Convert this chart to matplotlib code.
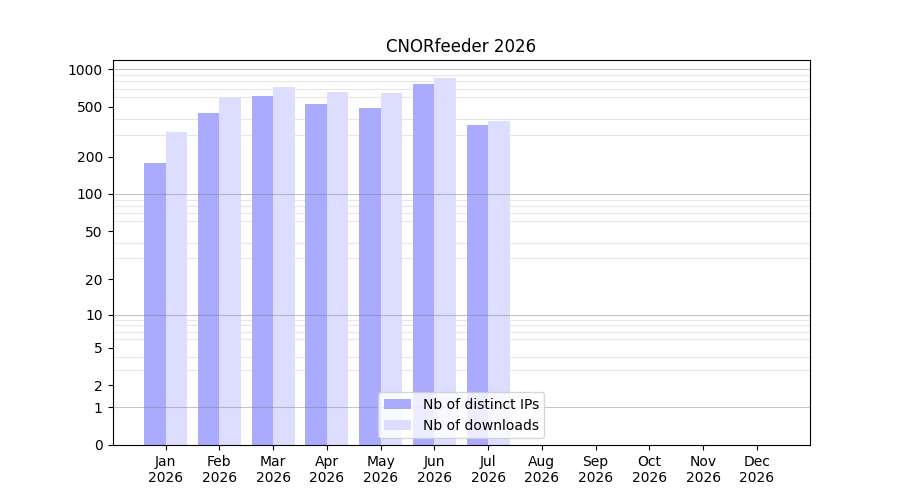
import numpy as np
import matplotlib
matplotlib.use("Agg")
import matplotlib.pyplot as plt
from matplotlib.ticker import FixedLocator, NullFormatter

months = ["Jan", "Feb", "Mar", "Apr", "May", "Jun", "Jul", "Aug", "Sep", "Oct", "Nov", "Dec"]
year = "2026"
distinct_ips = [177, 446, 610, 526, 489, 760, 357]
downloads = [314, 588, 719, 656, 644, 849, 384]
ytick_values = [0, 1, 2, 5, 10, 20, 50, 100, 200, 500, 1000]

def fwd(y):
    return np.log10(1 + np.clip(y, 0, None))

def inv(y):
    return 10 ** y - 1

fig, ax = plt.subplots(figsize=(9, 5), dpi=100)
fig.subplots_adjust(left=0.125, right=0.9, top=0.88, bottom=0.11)
ax.set_yscale("function", functions=(fwd, inv))

x = np.arange(len(months))
w = 0.4
ax.bar(x[:len(distinct_ips)] - w / 2, distinct_ips, width=w, color=(0.667, 0.667, 1.0),
       label="Nb of distinct IPs", zorder=2)
ax.bar(x[:len(downloads)] + w / 2, downloads, width=w, color=(0.867, 0.867, 1.0),
       label="Nb of downloads", zorder=2)

ax.set_xticks(x)
ax.set_xticklabels([f"{m}\n{year}" for m in months])
ax.set_xlim(-0.99, 11.99)
ax.set_ylim(0, 1185)

ax.yaxis.set_major_locator(FixedLocator(ytick_values))
ax.set_yticklabels([str(v) for v in ytick_values])
minor_vals = [m * d for d in (1, 10, 100) for m in range(2, 10)]
ax.yaxis.set_minor_locator(FixedLocator(minor_vals))
ax.yaxis.set_minor_formatter(NullFormatter())
ax.tick_params(axis="y", which="minor", length=0)
ax.grid(True, axis="y", which="minor", color="#e6e6e6", linewidth=0.8, zorder=3)
for d in (1, 10, 100, 1000):
    ax.axhline(d, color="gray", alpha=0.45, linewidth=0.8, zorder=3)

ax.set_title("CNORfeeder 2026")
ax.legend(loc="lower center")

fig.savefig("out.png")
